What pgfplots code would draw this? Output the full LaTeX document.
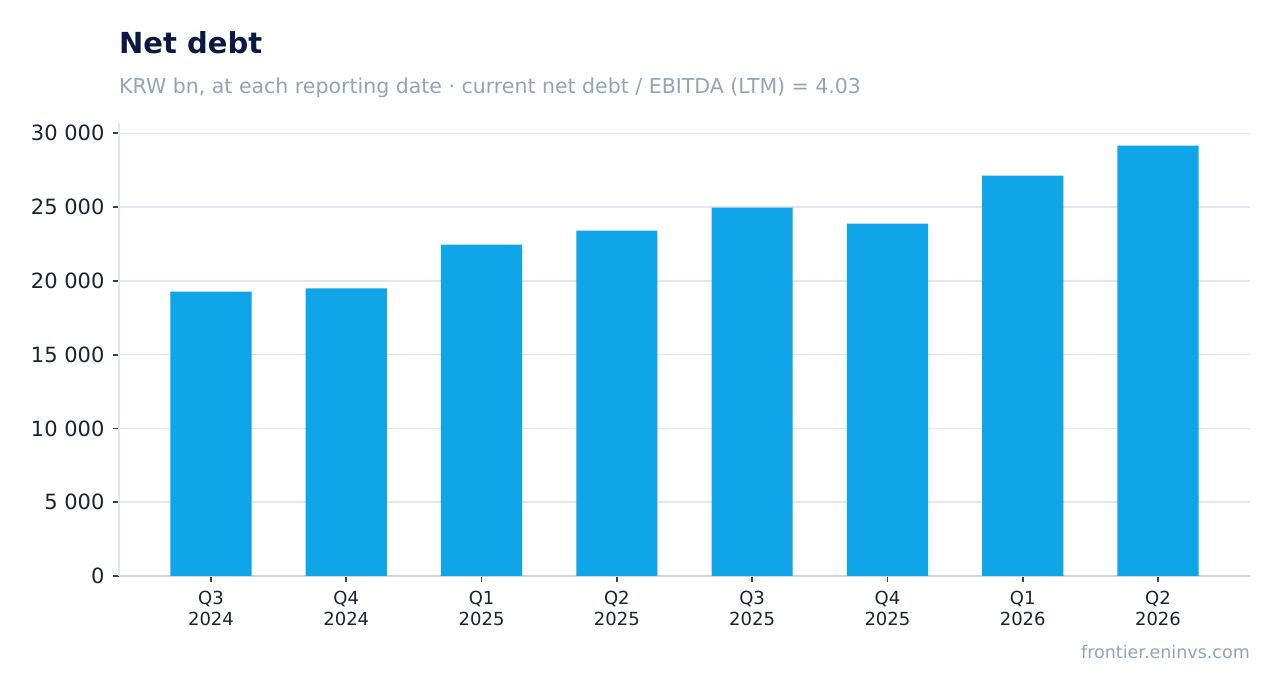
\documentclass[border=0pt]{standalone}
\usepackage{pgfplots}
\pgfplotsset{compat=1.18}
\usepackage{fontspec}
\setmainfont{DejaVu Sans}

\definecolor{barblue}{HTML}{10A5E8}
\definecolor{titlenavy}{HTML}{0B1A45}
\definecolor{subgray}{HTML}{94A3B8}
\definecolor{labeldark}{HTML}{1A2233}
\definecolor{gridgray}{HTML}{E3E6EC}
\definecolor{axisgray}{HTML}{CFD5DE}
\definecolor{tickgray}{HTML}{3A4150}

\begin{document}
\begin{tikzpicture}
	\path[use as bounding box] (0pt,0pt) rectangle (1281pt,693pt);
	\node[anchor=base west, inner sep=0, font=\fontsize{29}{34}\selectfont\bfseries, text=titlenavy] at (119pt,639.5pt) {Net debt};
	\node[anchor=base west, inner sep=0, font=\fontsize{20.5}{24}\selectfont, text=subgray] at (119pt,599pt) {KRW bn, at each reporting date · current net debt / EBITDA (LTM) = 4.03};
	\node[anchor=base east, inner sep=0, font=\fontsize{17.5}{20}\selectfont, text=subgray] at (1250pt,35pt) {frontier.eninvs.com};
	\begin{axis}[
		at={(119pt,117pt)}, anchor=south west,
		scale only axis, width=1131pt, height=453pt,
		xmin=-0.68, xmax=7.68, ymin=0, ymax=30700,
		axis x line*=bottom, axis y line*=left,
		x axis line style={-, axisgray, line width=1.3pt},
		y axis line style={-, gridgray, line width=1.3pt},
		ytick={0,5000,...,30000},
		scaled y ticks=false,
		xtick={0,...,7},
		xticklabels={{Q3\\2024},{Q4\\2024},{Q1\\2025},{Q2\\2025},{Q3\\2025},{Q4\\2025},{Q1\\2026},{Q2\\2026}},
		ymajorgrids, grid style={gridgray, line width=1.5pt},
		tick align=outside, major tick length=6pt,
		tick style={tickgray, line width=1.8pt},
		/pgf/number format/.cd, fixed, assume math mode=true, 1000 sep={\ }, /tikz/.cd,
		yticklabel style={font=\fontsize{21}{25}\selectfont, text=labeldark, xshift=-5pt},
		xticklabel style={font=\fontsize{18}{21}\selectfont, text=labeldark, align=center, yshift=-6pt},
	]
		\addplot[ybar, bar width=0.6, fill=barblue, draw=none] coordinates {
			(0,19280) (1,19490) (2,22460) (3,23410)
			(4,24970) (5,23880) (6,27130) (7,29160)
		};
	\end{axis}
\end{tikzpicture}
\end{document}
